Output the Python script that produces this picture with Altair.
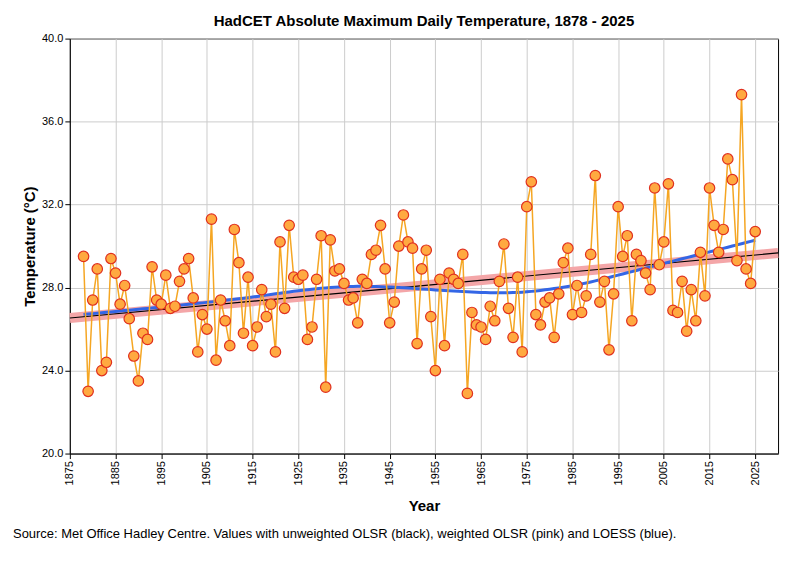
import altair as alt
import numpy as np
import pandas as pd

years = list(range(1878, 2026))
temps = [
    29.5, 23.0, 27.4, 28.9, 24.0, 24.4, 29.4, 28.7, 27.2, 28.1,
    26.5, 24.7, 23.5, 25.8, 25.5, 29.0, 27.4, 27.2, 28.6, 27.0,
    27.1, 28.3, 28.9, 29.4, 27.5, 24.9, 26.7, 26.0, 31.3, 24.5,
    27.4, 26.4, 25.2, 30.8, 29.2, 25.8, 28.5, 25.2, 26.1, 27.9,
    26.6, 27.2, 24.9, 30.2, 27.0, 31.0, 28.5, 28.4, 28.6, 25.5,
    26.1, 28.4, 30.5, 23.2, 30.3, 28.8, 28.9, 28.2, 27.4, 27.5,
    26.3, 28.4, 28.2, 29.6, 29.8, 31.0, 28.9, 26.3, 27.3, 30.0,
    31.5, 30.2, 29.9, 25.3, 28.9, 29.8, 26.6, 24.0, 28.4, 25.2,
    28.7, 28.4, 28.2, 29.6, 22.9, 26.8, 26.2, 26.1, 25.5, 27.1,
    26.4, 28.3, 30.1, 27.0, 25.6, 28.5, 24.9, 31.9, 33.1, 26.7,
    26.2, 27.3, 27.5, 25.6, 27.7, 29.2, 29.9, 26.7, 28.1, 26.8,
    27.6, 29.6, 33.4, 27.3, 28.3, 25.0, 27.7, 31.9, 29.5, 30.5,
    26.4, 29.6, 29.3, 28.7, 27.9, 32.8, 29.1, 30.2, 33.0, 26.9,
    26.8, 28.3, 25.9, 27.9, 26.4, 29.7, 27.6, 32.8, 31.0, 29.7,
    30.8, 34.2, 33.2, 29.3, 37.3, 28.9, 28.2, 30.7,
]
caption = "Source: Met Office Hadley Centre. Values with unweighted OLSR (black), weighted OLSR (pink) and LOESS (blue)."

df = pd.DataFrame({"Year": years, "Temp": temps})
slope, intercept = np.polyfit(df["Year"], df["Temp"], 1)
fit = pd.DataFrame({"Year": [1875, 2030]})
fit["Temp"] = intercept + slope * fit["Year"]

xax = alt.X("Year:Q", scale=alt.Scale(domain=[1875, 2030], nice=False, zero=False),
            axis=alt.Axis(values=list(range(1875, 2031, 5)), format="d", labelAngle=-90,
                          title="Year", titleFontSize=15, titleFontWeight="bold",
                          titlePadding=14, labelFontSize=11, labelColor="black",
                          gridColor="#cccccc", domainColor="black", tickColor="black"))
yax = alt.Y("Temp:Q", scale=alt.Scale(domain=[20, 40], nice=False, zero=False),
            axis=alt.Axis(values=[20, 24, 28, 32, 36, 40], format=".1f",
                          title="Temperature (°C)", titleFontSize=15, titleFontWeight="bold",
                          labelFontSize=11, labelColor="black", gridColor="#cccccc",
                          domainColor="black", tickColor="black"))

base = alt.Chart(df)
line = base.mark_line(color="#F5A623", strokeWidth=1.5).encode(x=xax, y=yax)
pink = alt.Chart(fit).mark_line(color="#F4A6A8", strokeWidth=10).encode(x="Year:Q", y="Temp:Q")
black = alt.Chart(fit).mark_line(color="black", strokeWidth=1.2).encode(x="Year:Q", y="Temp:Q")
loess = base.transform_loess("Year", "Temp", bandwidth=0.5).mark_line(
    color="#3366E6", strokeWidth=3).encode(x="Year:Q", y="Temp:Q")
pts = base.mark_point(filled=True, fill="#FFA940", stroke="#E0301E", strokeWidth=1.2,
                      size=110, opacity=1).encode(x="Year:Q", y="Temp:Q")
cap = alt.Chart(pd.DataFrame({"t": [caption]})).mark_text(
    align="left", baseline="middle", fontSize=13, font="Liberation Sans", color="black"
).encode(text="t:N", x=alt.value(-57), y=alt.value(497))

chart = alt.layer(pink, black, loess, line, pts, cap).properties(
    width=710, height=416,
    title=alt.TitleParams("HadCET Absolute Maximum Daily Temperature, 1878 - 2025",
                          fontSize=15, fontWeight="bold", font="Liberation Sans"),
).configure(font="Liberation Sans").configure_view(stroke="black")

chart.save("out.html", embed_options={"renderer": "svg", "actions": False})
